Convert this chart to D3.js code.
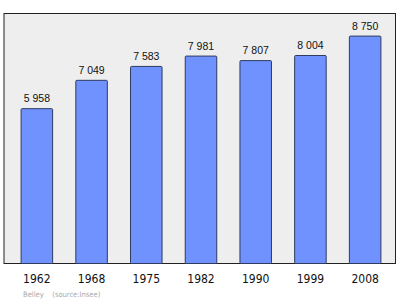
<!DOCTYPE html>
<html>
<head>
<meta charset="utf-8">
<script src="https://cdn.jsdelivr.net/npm/d3@7"></script>
<style>
  body { margin: 0; background: #fff; }
  svg { display: block; }
</style>
</head>
<body>
<div id="chart"></div>
<script>
// data
var years = ["1962", "1968", "1975", "1982", "1990", "1999", "2008"];
var population = [5958, 7049, 7583, 7981, 7807, 8004, 8750];
var footer = "Belley    (source:Insee)";

var W = 400, H = 299;
var plot = {left: 4, top: 13.5, right: 395.5, bottom: 263.5};

var svg = d3.select("#chart")
  .append("svg")
    .attr("width", W)
    .attr("height", H);

var x = d3.scaleBand()
  .domain(years)
  .range([9.5, 392.5])
  .paddingInner(0.424)
  .paddingOuter(0.212);

var y = d3.scaleLinear()
  .domain([0, 9620])
  .range([plot.bottom, plot.top]);

// plot background + frame
svg.append("rect")
  .attr("x", plot.left)
  .attr("y", plot.top)
  .attr("width", plot.right - plot.left)
  .attr("height", plot.bottom - plot.top)
  .attr("fill", "#eeeeee")
  .attr("stroke", "#222")
  .attr("stroke-width", 1);

var data = years.map(function(d, i) { return {year: d, value: population[i]}; });

svg.selectAll(".bar")
  .data(data)
  .enter().append("rect")
    .attr("class", "bar")
    .attr("x", function(d) { return x(d.year); })
    .attr("y", function(d) { return y(d.value); })
    .attr("width", x.bandwidth())
    .attr("height", function(d) { return y(0) - y(d.value); })
    .attr("rx", 1)
    .attr("fill", "#7092ff")
    .attr("stroke", "#2e3b5e")
    .attr("stroke-width", 1);

var fmt = function(v) { return d3.format(",")(v).replace(",", " "); };

svg.selectAll(".val")
  .data(data)
  .enter().append("text")
    .attr("class", "val")
    .attr("x", function(d) { return x(d.year) + x.bandwidth() / 2; })
    .attr("y", function(d) { return y(d.value) - 6.5; })
    .attr("text-anchor", "middle")
    .style("font-family", "'Liberation Sans', Arial, sans-serif")
    .style("font-size", "10.5px")
    .attr("fill", "#111")
    .text(function(d) { return fmt(d.value); });

// x axis labels
svg.selectAll(".yr")
  .data(years)
  .enter().append("text")
    .attr("class", "yr")
    .attr("x", function(d) { return x(d) + x.bandwidth() / 2; })
    .attr("y", 282.5)
    .attr("text-anchor", "middle")
    .style("font-family", "'DejaVu Sans Condensed', 'DejaVu Sans', sans-serif")
    .style("font-size", "12px")
    .attr("fill", "#111")
    .text(function(d) { return d; });

svg.append("text")
  .attr("x", 23)
  .attr("y", 297)
  .style("font-family", "'DejaVu Sans Condensed', 'DejaVu Sans', sans-serif")
  .style("font-size", "7.5px")
  .style("white-space", "pre")
  .attr("fill", "#aaa")
  .text(footer);
</script>
</body>
</html>
